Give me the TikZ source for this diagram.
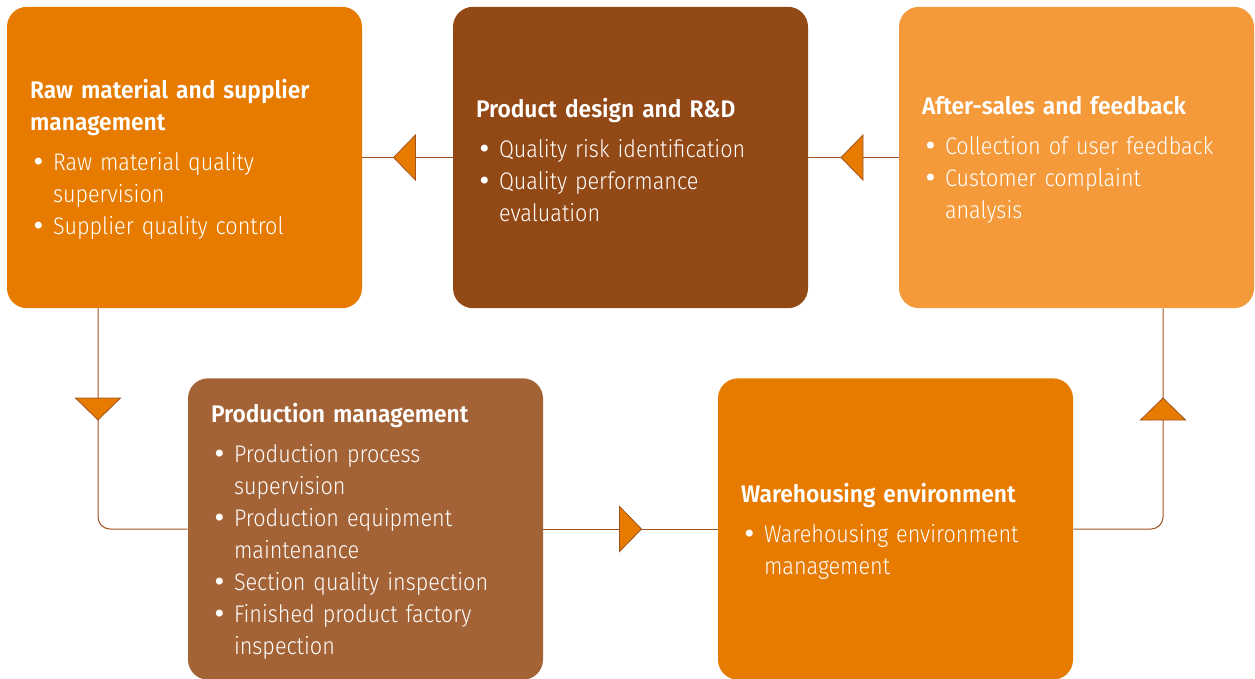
\documentclass[tikz,border=0pt]{standalone}
\usepackage{fontspec}
\setmainfont{Fira Sans Light}[BoldFont={Fira Sans SemiBold}, FakeStretch=0.9, BoldFeatures={FakeStretch=0.95}]
\newfontfamily\dotfont{DejaVu Sans}
\definecolor{deeporange}{RGB}{231,123,0}
\definecolor{darkbrown}{RGB}{147,73,22}
\definecolor{liteorange}{RGB}{244,154,58}
\definecolor{midbrown}{RGB}{164,99,54}
\definecolor{linebrown}{RGB}{160,82,30}
\tikzstyle{box}=[rounded corners=15pt, minimum width=266.25pt, minimum height=226pt, text width=231.75pt, inner xsep=17.25pt, inner ysep=0pt, align=left, text=white, font=\fontsize{18}{24}\selectfont]
\tikzstyle{link}=[draw=linebrown, line width=0.75pt, rounded corners=9pt]
\tikzstyle{tri}=[fill=deeporange, draw=linebrown, line width=0.6pt, line join=miter]
% tall strut on the heading pushes the block a little down
\newcommand{\boxhead}[1]{{\bfseries\rule{0pt}{17.5pt}#1\par}\vspace{6pt}}
% bullet item and its indented second line
\newcommand{\itm}{\par\noindent\makebox[17.25pt][l]{\hspace{1pt}{\dotfont •}}}
\newcommand{\nxt}{\\\hspace*{17.25pt}}
\newcommand{\flowtri}[2]{\filldraw[tri, shift={(#1)}, rotate=#2] (-8.25pt,-16.9pt) -- (-8.25pt,16.9pt) -- (8.25pt,0pt) -- cycle;}

\begin{document}
\begin{tikzpicture}[x=0.75pt, y=-0.75pt]
    \useasboundingbox (0,0) rectangle (1255,678);
    \node[box, fill=deeporange] (raw) at (184.5,157.5) {\boxhead{Raw material and supplier\\ management}%
        \itm Raw material quality\nxt supervision\itm Supplier quality control};
    \node[box, fill=darkbrown] (design) at (630.5,157.5) {\boxhead{Product design and R\&D}%
        \itm Quality risk identification\itm Quality performance\nxt evaluation};
    \node[box, fill=liteorange] (after) at (1076.5,157.5) {\boxhead{After-sales and feedback}%
        \itm Collection of user feedback\itm Customer complaint\nxt analysis};
    \node[box, fill=midbrown] (prod) at (365.5,529) {\boxhead{Production management}%
        \itm Production process\nxt supervision\itm Production equipment\nxt maintenance%
        \itm Section quality inspection\itm Finished product factory\nxt inspection};
    \node[box, fill=deeporange] (ware) at (895.5,529) {\boxhead{Warehousing environment}%
        \itm Warehousing environment\nxt management};
    \coordinate (k1) at (98,528);
    \coordinate (k2) at (1163,528);
    \draw[link] (design.west) -- (raw.east);
    \draw[link] (after.west) -- (design.east);
    \draw[link] (raw.south -| k1) |- (prod.west);
    \draw[link] (prod.east) -- (ware.west);
    \draw[link] (ware.east) -| (after.south -| k2);
    \coordinate (t1) at (404.5,157.5);
    \coordinate (t2) at (852,157.5);
    \coordinate (t3) at (98,409);
    \coordinate (t4) at (630.5,529);
    \coordinate (t5) at (1163,409);
    \flowtri{t1}{180}
    \flowtri{t2}{180}
    \flowtri{t3}{-90}
    \flowtri{t4}{0}
    \flowtri{t5}{90}
\end{tikzpicture}
\end{document}
